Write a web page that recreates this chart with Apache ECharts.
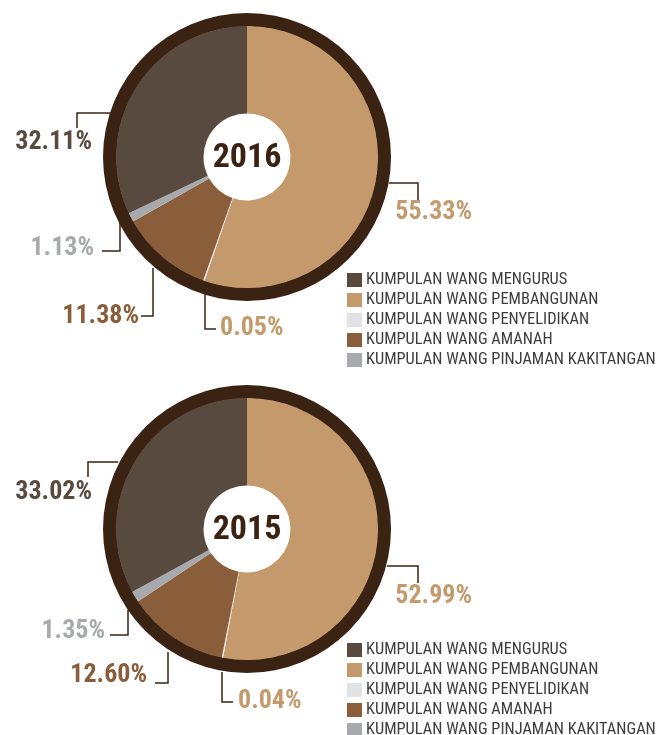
<!DOCTYPE html>
<html>
<head>
<meta charset="utf-8">
<script src="https://cdn.jsdelivr.net/npm/echarts@6/dist/echarts.min.js"></script>
<style>
html,body{margin:0;padding:0;background:#fff;}
#chart{width:659px;height:735px;}
</style>
</head>
<body>
<div id="chart"></div>
<script>
// ---- data ----
const categories = ['KUMPULAN WANG MENGURUS','KUMPULAN WANG PEMBANGUNAN','KUMPULAN WANG PENYELIDIKAN','KUMPULAN WANG AMANAH','KUMPULAN WANG PINJAMAN KAKITANGAN'];
const years = ['2016','2015'];
const values2016 = [32.11, 55.33, 0.05, 11.38, 1.13];
const values2015 = [33.02, 52.99, 0.04, 12.60, 1.35];
const sliceOrder = [1, 2, 3, 4, 0]; // clockwise from 12 o'clock

// ---- style ----
const FONT = '"Roboto Condensed", "DejaVu Sans Condensed", sans-serif';
const sliceColors = ['#594a40', '#c49a6c', '#e1e2e4', '#8a5d3b', '#a7a9ac'];
const labelColors = ['#594a40', '#c49a6c', '#c49a6c', '#8a5d3b', '#a7a9ac'];
const ringColor = '#3b2314';
const centers = [[247, 157], [247, 529]];
const legendTops = [272, 642];
// label leader layouts (offsets from pie centre), per category
const labelLayouts = [
  [
    {pts: [[-137,-44],[-170,-44],[-170,-29]], text: [-155,-15,'right']},
    {pts: [[142,26],[171,26],[171,43]], text: [225,55,'right']},
    {pts: [[-42,133],[-42,172],[-31,172]], text: [-27,171,'left']},
    {pts: [[-94,111],[-94,159],[-106,159]], text: [-108,159,'right']},
    {pts: [[-127,66],[-127,94],[-145,94]], text: [-153,91,'right']}
  ],
  [
    {pts: [[-129,-67],[-159,-67],[-159,-52]], text: [-155,-37,'right']},
    {pts: [[140,37],[171,37],[171,54]], text: [225,67,'right']},
    {pts: [[-25,143],[-25,173],[-14,173]], text: [-9,172,'left']},
    {pts: [[-79,123],[-79,154],[-92,154]], text: [-100,146,'right']},
    {pts: [[-119,81],[-119,106],[-137,106]], text: [-142,102,'right']}
  ]
];

const allValues = [values2016, values2015];
const series = [];
const graphic = [];
const legends = [];

years.forEach(function (yr, yi) {
  const c = centers[yi];
  const vals = allValues[yi];
  // outer ring
  series.push({
    type: 'pie', name: 'ring' + yr, silent: true, center: c, radius: [130.5, 144],
    label: {show: false}, labelLine: {show: false},
    data: [{value: 1, name: 'ring', itemStyle: {color: ringColor}}],
    emphasis: {disabled: true}
  });
  // main pie
  series.push({
    type: 'pie', name: yr, center: c, radius: [43.5, 131], startAngle: 90, clockwise: true,
    minAngle: 0.6, avoidLabelOverlap: false,
    data: sliceOrder.map(function (ci) {
      return {name: categories[ci], value: vals[ci],
        itemStyle: {color: sliceColors[ci]},
        label: {color: labelColors[ci]}};
    }),
    label: {
      show: true, position: 'outside',
      fontFamily: FONT, fontWeight: 'bold', fontSize: 26,
      formatter: function (p) { return p.value.toFixed(2) + '%'; }
    },
    labelLine: {show: true, length: 10, length2: 10, smooth: false,
      lineStyle: {color: ringColor, width: 1.5}},
    labelLayout: function (params) {
      const ci = sliceOrder[params.dataIndex];
      const L = labelLayouts[yi][ci];
      return {
        x: c[0] + L.text[0], y: c[1] + L.text[1],
        align: L.text[2], verticalAlign: 'middle',
        labelLinePoints: L.pts.map(function (p) { return [c[0] + p[0], c[1] + p[1]]; })
      };
    },
    emphasis: {scale: false}
  });
  graphic.push({
    type: 'text', x: c[0], y: c[1] + 1,
    style: {text: yr, align: 'center', verticalAlign: 'middle',
      font: 'bold 34px ' + FONT, fill: ringColor}
  });
  legends.push({
    orient: 'vertical', left: 347, top: legendTops[yi], height: 200, padding: 0,
    data: categories, icon: 'rect', itemWidth: 15, itemHeight: 14, itemGap: 4,
    textStyle: {fontFamily: FONT, fontSize: 16.4, color: '#3d3d3d', padding: [0, 0, 0, -1]},
    selectedMode: false
  });
});

const chart = echarts.init(document.getElementById('chart'), null, {renderer: 'canvas'});
chart.setOption({
  backgroundColor: '#ffffff',
  animation: false,
  legend: legends,
  series: series,
  graphic: graphic
});
</script>
</body>
</html>
